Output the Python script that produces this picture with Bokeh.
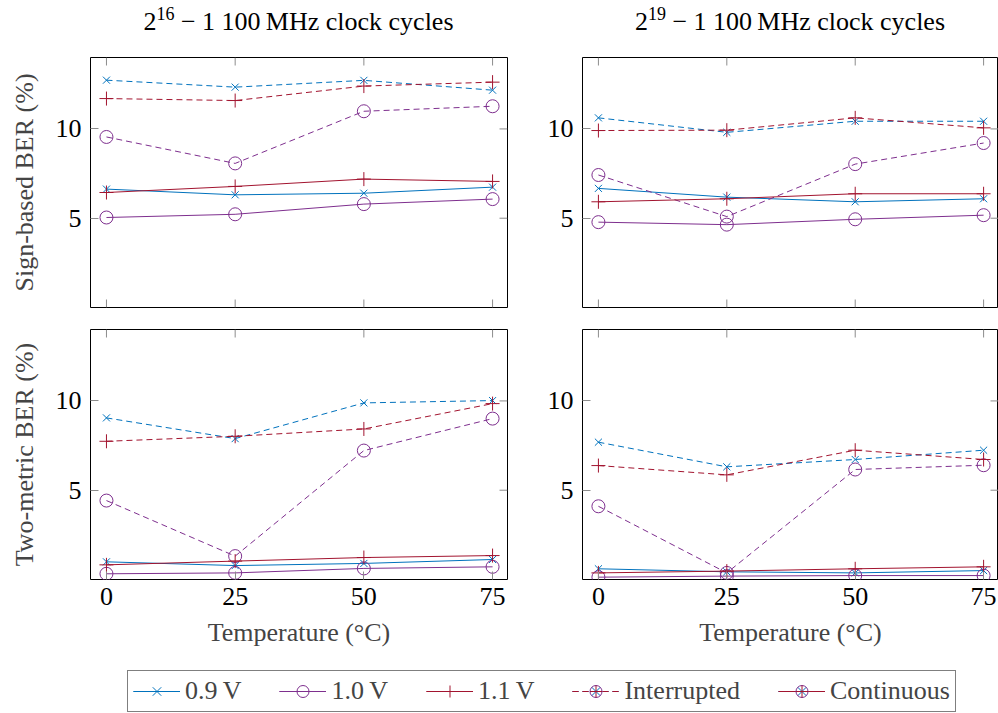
import math
from bokeh.plotting import figure
from bokeh.models import Range1d, FixedTicker, Legend, LegendItem, Div
from bokeh.layouts import column, row
from bokeh.embed import file_html
from bokeh.resources import INLINE

temps = [0, 25, 50, 75]
x_ticks = [0, 25, 50, 75]
y_ticks = [5, 10]
title_exps = ["16", "19"]
title_rest = " \u2212 1 100\u2009MHz clock cycles"
row_labels = ["Sign-based BER (%)", "Two-metric BER (%)"]
x_label = "Temperature (\u00b0C)"
voltages = ["0.9\u2009V", "1.0\u2009V", "1.1\u2009V"]

# Sign-based BER, 2^16-1 cycles
sb16_int_09 = [12.73, 12.34, 12.72, 12.17]
sb16_int_10 = [9.55, 8.07, 10.99, 11.27]
sb16_int_11 = [11.70, 11.59, 12.40, 12.62]
sb16_con_09 = [6.63, 6.31, 6.40, 6.74]
sb16_con_10 = [5.04, 5.22, 5.79, 6.07]
sb16_con_11 = [6.44, 6.78, 7.19, 7.06]
# Sign-based BER, 2^19-1 cycles
sb19_int_09 = [10.62, 9.81, 10.43, 10.43]
sb19_int_10 = [7.42, 5.09, 8.03, 9.21]
sb19_int_11 = [9.91, 9.93, 10.62, 10.06]
sb19_con_09 = [6.67, 6.18, 5.92, 6.09]
sb19_con_10 = [4.78, 4.64, 4.94, 5.17]
sb19_con_11 = [5.92, 6.09, 6.37, 6.37]
# Two-metric BER, 2^16-1 cycles
tm16_int_09 = [9.05, 7.89, 9.89, 10.02]
tm16_int_10 = [4.42, 1.31, 7.22, 9.01]
tm16_int_11 = [7.74, 8.02, 8.43, 9.85]
tm16_con_09 = [0.99, 0.78, 0.90, 1.12]
tm16_con_10 = [0.32, 0.37, 0.62, 0.71]
tm16_con_11 = [0.82, 1.03, 1.23, 1.34]
# Two-metric BER, 2^19-1 cycles
tm19_int_09 = [7.69, 6.31, 6.72, 7.24]
tm19_int_10 = [4.10, 0.37, 6.16, 6.40]
tm19_int_11 = [6.38, 5.86, 7.24, 6.72]
tm19_con_09 = [0.60, 0.43, 0.37, 0.50]
tm19_con_10 = [0.13, 0.19, 0.22, 0.22]
tm19_con_11 = [0.37, 0.47, 0.60, 0.71]

COLORS = ["#0072BD", "#7E2F8E", "#A2142F"]
MARKERS = ["x", "circle", "cross"]
MSIZE = [10, 13, 14]
FONT = "Liberation Serif"
FS = "26px"
TICK_COLOR = "#8c8c8c"
TICK_LEN = 8
DASH = "6 4"
TITLE_H = 45


def style_axis(ax):
    ax.axis_line_color = None
    ax.major_tick_in = TICK_LEN
    ax.major_tick_out = 0
    ax.minor_tick_in = 0
    ax.minor_tick_out = 0
    ax.major_tick_line_color = TICK_COLOR
    ax.major_label_text_font = FONT
    ax.major_label_text_font_size = FS
    ax.major_label_text_color = "black"
    ax.axis_label_text_font = FONT
    ax.axis_label_text_font_style = "normal"
    ax.axis_label_text_font_size = FS


def tick_rays(p, xs, ys, angle):
    p.ray(x=xs, y=ys, length=TICK_LEN, length_units="screen", angle=angle,
          line_color=TICK_COLOR, line_width=1)


def title_div(exp, left):
    html = '2<sup style="font-size:18px">%s</sup>%s' % (exp, title_rest)
    return Div(text=html, width=417 if left else 416, height=TITLE_H,
               margin=(0, 15, 0, 90) if left else (0, 0, 0, 60),
               styles={"font-family": FONT, "font-size": FS, "text-align": "center",
                       "color": "black", "padding-top": "4px", "line-height": "1.15"})


def panel(series, ylabel=None, xlabel=None, left=True, top=True):
    x_range = Range1d(-3.1, 77.9)
    y_range = Range1d(0, 14)
    p = figure(
        frame_width=417 if left else 416, frame_height=250,
        x_range=x_range, y_range=y_range,
        output_backend="svg", toolbar_location=None,
        min_border_left=90 if left else 60,
        min_border_right=15 if left else 0,
        min_border_top=57 - TITLE_H if top else 11,
        min_border_bottom=11 if top else 82,
        background_fill_color="white", border_fill_color="white",
    )
    p.outline_line_color = "black"
    p.outline_line_width = 1
    p.grid.visible = False
    p.xaxis.ticker = FixedTicker(ticks=x_ticks)
    p.yaxis.ticker = FixedTicker(ticks=y_ticks)
    style_axis(p.xaxis[0])
    style_axis(p.yaxis[0])
    p.yaxis.major_label_standoff = 9
    if ylabel:
        p.yaxis.axis_label = ylabel
        p.yaxis.axis_label_standoff = 14
    if top:
        p.xaxis.visible = False
        tick_rays(p, x_ticks, [y_range.start] * len(x_ticks), math.pi / 2)
    if xlabel:
        p.xaxis.axis_label = xlabel
        p.xaxis.axis_label_standoff = 10
        p.xaxis.major_label_standoff = 8
    # mirrored ticks on top and right
    tick_rays(p, x_ticks, [y_range.end] * len(x_ticks), -math.pi / 2)
    tick_rays(p, [x_range.end] * len(y_ticks), y_ticks, math.pi)

    ints, cons = series
    for i in range(3):
        p.line(temps, ints[i], line_color=COLORS[i], line_width=1, line_dash=DASH)
        p.scatter(temps, ints[i], marker=MARKERS[i], size=MSIZE[i], line_color=COLORS[i],
                  fill_color=None, line_width=1)
        p.line(temps, cons[i], line_color=COLORS[i], line_width=1)
        p.scatter(temps, cons[i], marker=MARKERS[i], size=MSIZE[i], line_color=COLORS[i],
                  fill_color=None, line_width=1)
    return p


p11 = panel(([sb16_int_09, sb16_int_10, sb16_int_11], [sb16_con_09, sb16_con_10, sb16_con_11]),
            ylabel=row_labels[0], left=True, top=True)
p12 = panel(([sb19_int_09, sb19_int_10, sb19_int_11], [sb19_con_09, sb19_con_10, sb19_con_11]),
            left=False, top=True)
p21 = panel(([tm16_int_09, tm16_int_10, tm16_int_11], [tm16_con_09, tm16_con_10, tm16_con_11]),
            ylabel=row_labels[1], xlabel=x_label, left=True, top=False)
p22 = panel(([tm19_int_09, tm19_int_10, tm19_int_11], [tm19_con_09, tm19_con_10, tm19_con_11]),
            xlabel=x_label, left=False, top=False)

# legend figure (legend renderers carry points outside the visible range)
lg = figure(width=998, height=52, x_range=Range1d(0, 1), y_range=Range1d(0, 1),
            output_backend="svg", toolbar_location=None, min_border=0)
lg.axis.visible = False
lg.grid.visible = False
lg.outline_line_color = None
OFF = dict(x=[-5, -4], y=[-5, -4])
items = []
for i in range(3):
    r1 = lg.line(line_color=COLORS[i], line_width=1, **OFF)
    r2 = lg.line(line_color=COLORS[i], line_width=1, line_dash=DASH, **OFF)
    r3 = lg.scatter(marker=MARKERS[i], size=MSIZE[i], line_color=COLORS[i], fill_color=None, **OFF)
    items.append(LegendItem(label=voltages[i], renderers=[r1, r2, r3]))
ri = []
for i in [0, 1, 2]:
    ri.append(lg.line(line_color=COLORS[i], line_width=1, line_dash=DASH, **OFF))
for i in [0, 1, 2]:
    ri.append(lg.scatter(marker=MARKERS[i], size=MSIZE[i], line_color=COLORS[i], fill_color=None, **OFF))
items.append(LegendItem(label="Interrupted", renderers=ri))
rc = []
for i in [1, 0, 2]:
    rc.append(lg.line(line_color=COLORS[i], line_width=1, **OFF))
for i in [0, 1, 2]:
    rc.append(lg.scatter(marker=MARKERS[i], size=MSIZE[i], line_color=COLORS[i], fill_color=None, **OFF))
items.append(LegendItem(label="Continuous", renderers=rc))

legend = Legend(items=items, orientation="horizontal", location=(127, 1),
                label_text_font=FONT, label_text_font_size=FS,
                glyph_width=47, glyph_height=30, label_standoff=5, spacing=38,
                padding=5, margin=0, border_line_color="black", border_line_width=1,
                background_fill_alpha=1)
lg.add_layout(legend, "center")

layout = column(row(title_div(title_exps[0], True), title_div(title_exps[1], False)),
                row(p11, p12), row(p21, p22), lg)
open("out.html", "w").write(file_html(layout, INLINE))
